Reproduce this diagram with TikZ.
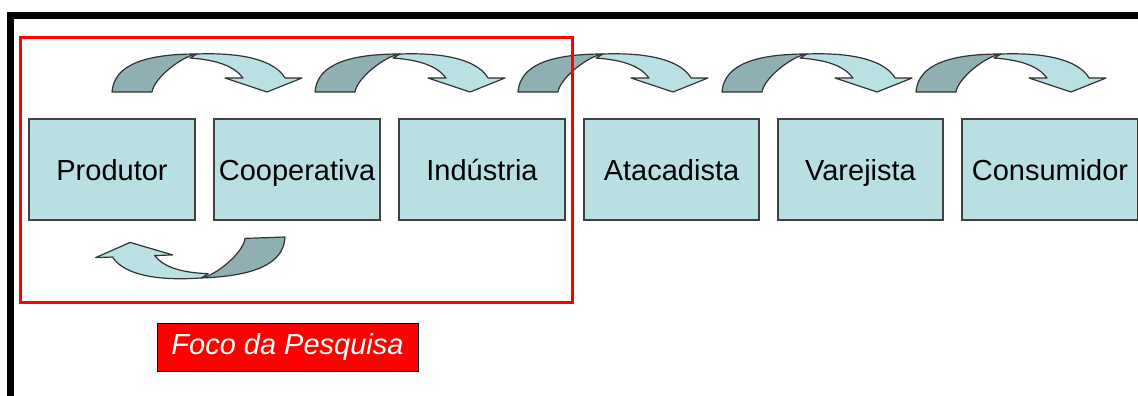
\documentclass[tikz,border=0pt]{standalone}
\usepackage{fontspec}
\setmainfont{Liberation Sans}
\usetikzlibrary{positioning}

\definecolor{boxfill}{RGB}{186,223,226}
\definecolor{boxline}{RGB}{64,64,64}
\definecolor{banddark}{RGB}{143,175,179}
\definecolor{bandlight}{RGB}{186,224,228}

\tikzset{
  etapa/.style={draw=boxline, line width=1.5pt, fill=boxfill, inner sep=0pt,
    minimum width=166pt, minimum height=101pt, text height=21pt, text depth=0pt,
    font=\fontsize{29}{35}\selectfont},
  banda/.style={draw=black!80, line width=1.2pt, line join=round},
  % curved arrow, tail at the origin, head to the right
  seta/.pic={
    % face of the band and the head
    \draw[banda, fill=bandlight] (85,-38) .. controls (140,-40) and (165,-28) .. (173,-14)
        -- (190,-14) -- (155,0) -- (113,-14) -- (131,-14)
        .. controls (122,-26) and (105,-32) .. (78,-34) -- cycle;
    % back of the band at the tail
    \draw[banda, fill=banddark] (0,0) .. controls (2,-28) and (35,-38) .. (85,-38)
        .. controls (70,-36) and (42,-14) .. (40,0) -- cycle;
  }
}

\begin{document}
\begin{tikzpicture}[x=1pt,y=-1pt,>=latex]
  \useasboundingbox (0,0) rectangle (1138,396);

  % the chain
  \node[etapa] (produtor) at (112,169.5) {Produtor};
  \node[etapa, right=17.5pt of produtor] (cooperativa) {Cooperativa};
  \node[etapa, right=17.5pt of cooperativa] (industria) {Indústria};
  \node[etapa, minimum width=175pt, right=17.5pt of industria] (atacadista) {Atacadista};
  \node[etapa, minimum width=165pt, right=17.5pt of atacadista] (varejista) {Varejista};
  \node[etapa, minimum width=176pt, right=17.5pt of varejista] (consumidor) {Consumidor};

  % arrows over the chain
  \foreach \x in {112,315,518,722,916}
    \pic at (\x,92) {seta};
  % back from cooperativa to produtor
  \pic[rotate=182] at (285,237) {seta};

  % focus of the research
  \draw[red, line width=3pt] (20,38) rectangle (572,302);
  \node[draw=black, line width=1pt, fill=red, text=white, inner sep=0pt,
    minimum width=261pt, minimum height=48pt,
    font=\fontsize{29}{35}\selectfont\itshape] (foco) at (287.5,347) {Foco da Pesquisa};

  % frame
  \draw[line width=7pt] (10.5,396) -- (10.5,15.5) -- (1138,15.5);
\end{tikzpicture}
\end{document}
